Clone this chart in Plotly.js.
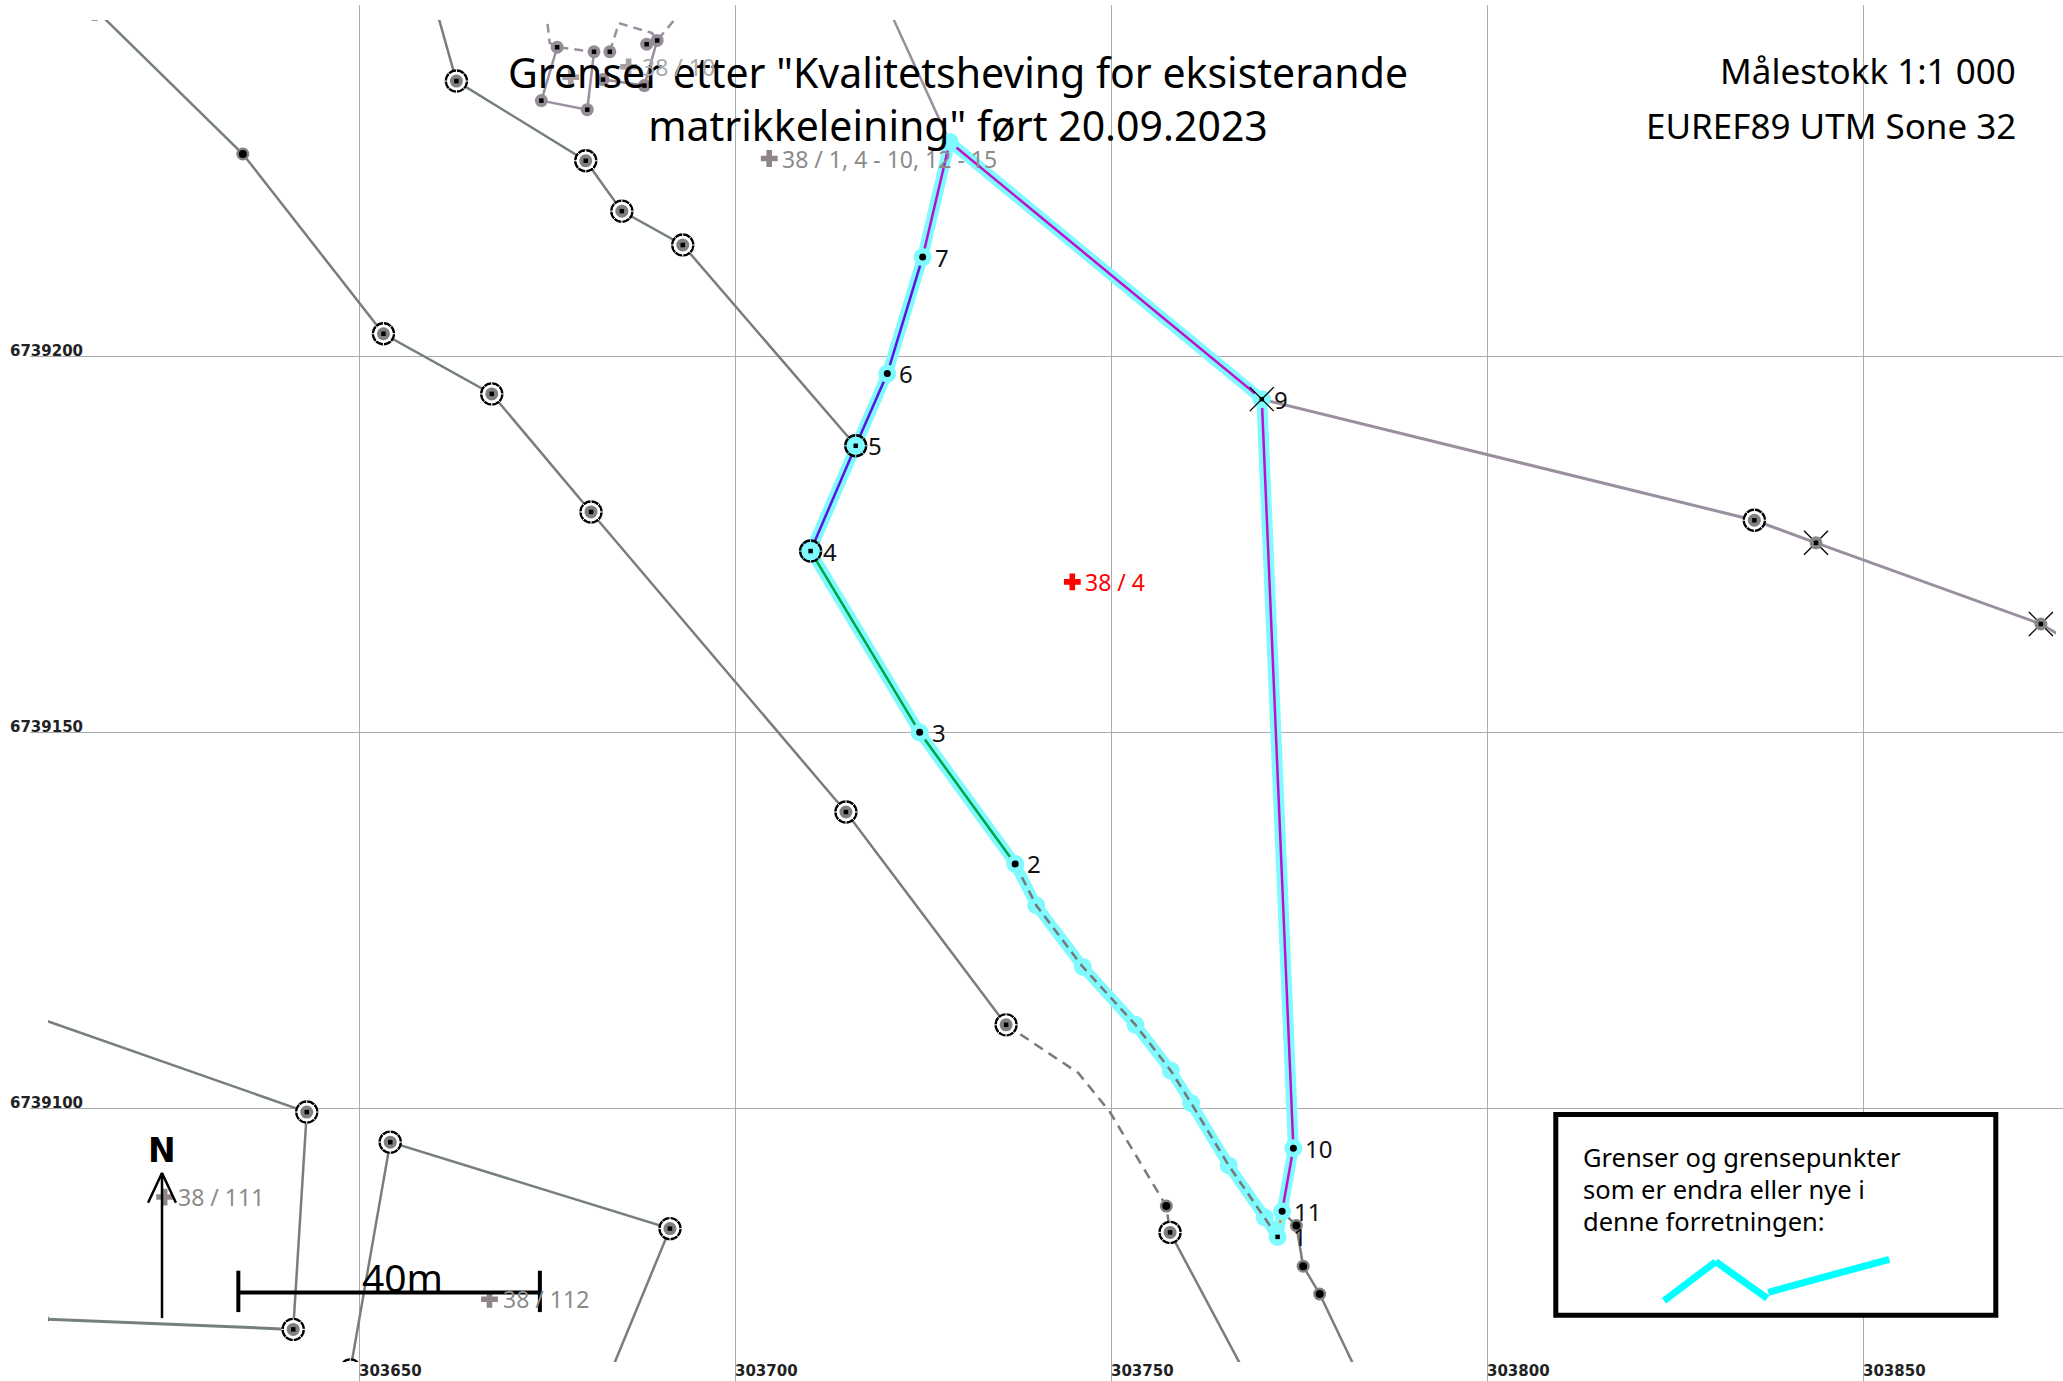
<!DOCTYPE html>
<html><head><meta charset="utf-8">
<script src="https://cdn.plot.ly/plotly-3.0.1.min.js"></script>
<style>html,body{margin:0;padding:0;background:#fff}#c{width:2063px;height:1381px}</style></head>
<body><div id="c"></div>
<script>
const eastTicks=[303650,303700,303750,303800,303850];
const northTicks=[6739100,6739150,6739200];
const lineAE=[303614.8,303634.5,303653.2,303667.6,303680.8,303714.7,303736.0];
const lineAN=[6739246.2,6739226.9,6739203.0,6739195.0,6739179.3,6739139.4,6739111.1];
const lineADashE=[303736.0,303745.6,303749.8,303757.3,303757.8];
const lineADashN=[6739111.1,6739104.7,6739099.5,6739087.0,6739083.5];
const lineA2E=[303757.8,303768.4];
const lineA2N=[6739083.5,6739063.6];
const lineBE=[303660.2,303662.9,303680.1,303684.9,303693.0,303716.0];
const lineBN=[6739246.2,6739236.6,6739226.0,6739219.3,6739214.8,6739188.1];
const lineCE=[303720.4,303728.5];
const lineCN=[6739246.2,6739228.5];
const lineDE=[303770.0,303835.5,303843.7,303873.6,303877.5];
const lineDN=[6739194.3,6739178.2,6739175.2,6739164.4,6739162.1];
const lineHE=[303772.7,303774.6,303775.5,303777.7,303783.1];
const lineHN=[6739086.3,6739084.4,6739079.0,6739075.3,6739064.0];
const lineE1E=[303606.2,303643.0,303641.2,303607.1];
const lineE1N=[6739112.4,6739099.5,6739070.6,6739072.0];
const lineGE=[303648.8,303654.1,303691.3,303683.0];
const lineGN=[6739065.2,6739095.5,6739084.0,6739063.9];
// small parcel
const spSolid1E=[303676.3,303674.2,303680.3,303681.2];
const spSolid1N=[6739241.1,6739234.0,6739232.8,6739240.5];
const spSolid2E=[303689.6,303687.9,303682.4];
const spSolid2N=[6739242.0,6739236.0,6739236.8];
const spDash1E=[303674.8,303675.3,303676.3,303681.2];
const spDash1N=[6739246.2,6739241.7,6739241.1,6739240.5];
const spDash2E=[303683.3,303684.5,303688.9,303689.6,303693.1];
const spDash2N=[6739240.5,6739244.3,6739243.0,6739242.0,6739246.2];
const spNodeE=[303676.3,303681.2,303683.3,303688.2,303689.6,303674.2,303680.3,303682.4,303687.9];
const spNodeN=[6739241.1,6739240.5,6739240.5,6739241.5,6739242.0,6739234.0,6739232.8,6739236.8,6739236.0];
// the parcel boundary, by stretch
const pt8=[303728.5,6739228.5],pt7=[303724.9,6739213.2],pt6=[303720.2,6739197.7],pt5=[303716.0,6739188.1],pt4=[303710.0,6739174.1],pt3=[303724.5,6739150.0],pt2=[303737.2,6739132.5],pt1=[303772.1,6739082.9],pt11=[303772.7,6739086.3],pt10=[303774.2,6739094.7],pt9=[303770.0,6739194.3];
const midE=[303740.0,303746.2,303753.2,303757.9,303760.6,303765.6,303770.4];
const midN=[6739127.0,6739118.8,6739111.1,6739105.0,6739100.7,6739092.4,6739085.5];
const pointNames=["1","2","3","4","5","6","7","9","10","11"];
const pointE=[pt1[0],pt2[0],pt3[0],pt4[0],pt5[0],pt6[0],pt7[0],pt9[0],pt10[0],pt11[0]];
const pointN=[pt1[1],pt2[1],pt3[1],pt4[1],pt5[1],pt6[1],pt7[1],pt9[1],pt10[1],pt11[1]];
// boundary marks
const ringE=[303614.8,303653.2,303667.6,303680.8,303714.7,303736.0,303757.8,303662.9,303680.1,303684.9,303693.0,303835.5,303643.0,303641.2,303654.1,303691.3,303648.8,303607.1];
const ringN=[6739246.2,6739203.0,6739195.0,6739179.3,6739139.4,6739111.1,6739083.5,6739236.6,6739226.0,6739219.3,6739214.8,6739178.2,6739099.5,6739070.6,6739095.5,6739084.0,6739065.2,6739072.0];
const dotE=[303634.5,303757.3,303774.6,303775.5,303777.7];
const dotN=[6739226.9,6739087.0,6739084.4,6739079.0,6739075.3];
const crossE=[303843.7,303873.6];
const crossN=[6739175.2,6739164.4];
// parcel labels
const parcelText=["38 / 1, 4 - 10, 12 - 15","38 / 4","38 / 111","38 / 112","38 / 10",""];
const parcelE=[303704.5,303744.8,303624.1,303667.3,303685.8,303678.1];
const parcelN=[6739226.3,6739170.0,6739088.2,6739074.6,6739238.5,6739237.1];
const parcelColor=["#8b8b8b","#ff0000","#8b8b8b","#8b8b8b","#aaaaaa","#aaaaaa"];
const plusColor=["#8f8589","#ff0000","#8f8589","#8f8589","#a89fa4","#a89fa4"];
// map furniture
const scaleE=[303633.9,303674.0],scaleN=6739075.5,scaleTickN=[6739078.4,6739072.9];
const northE=303623.75,northN=[6739072.1,6739091.4],headE=[303621.9,303623.75,303625.6],headN=[6739087.45,6739091.4,6739087.45];
const titleLines='Grenser etter "Kvalitetsheving for eksisterande<br>matrikkeleining" ført 20.09.2023';
const scaleLines=["Målestokk 1:1 000","EUREF89 UTM Sone 32"];
const legendLines=["Grenser og grensepunkter","som er endra eller nye i","denne forretningen:"];

const W=2063,H=1381,S=7.52;
const E0=303650,EX=359.4,N0=6739100,NY=1108.3;
const eAt=p=>E0+(p-EX)/S, nAt=p=>N0+(NY-p)/S;
const GREEN='#76807a',PURP='#9a8f9e',CY='#7ffaff';
const T=[];
function line(xs,ys,color,width,dash){T.push({x:xs,y:ys,xaxis:'x2',yaxis:'y2',mode:'lines',hoverinfo:'skip',line:{color:color,width:width,dash:dash||'solid'}});}
function mark(xs,ys,sym,size,color,lc,lw){T.push({x:xs,y:ys,xaxis:'x2',yaxis:'y2',mode:'markers',hoverinfo:'skip',marker:{symbol:sym,size:size,color:color,line:{color:lc||color,width:lw||0}}});}
function seg(a,b){return [[a[0],b[0]],[a[1],b[1]]];}
// background cadastre
line(lineAE,lineAN,GREEN,2.5);line(lineADashE,lineADashN,'#7a7a7a',2.5,'10px,7px');line(lineA2E,lineA2N,GREEN,2.5);
line(lineBE,lineBN,GREEN,2.5);line(lineCE,lineCN,PURP,2.5);line(lineDE,lineDN,PURP,3);line(lineHE,lineHN,GREEN,2.5);
line(lineE1E.slice(0,3),lineE1N.slice(0,3),GREEN,2.5);line(lineE1E.slice(2),lineE1N.slice(2),GREEN,3);line(lineGE,lineGN,GREEN,2.5);
line(spSolid1E,spSolid1N,PURP,2.5);line(spSolid2E,spSolid2N,PURP,2.5);
line(spDash1E,spDash1N,PURP,2.5,'9px,6px');line(spDash2E,spDash2N,PURP,2.5,'9px,6px');
// ring marks with broken outline: ring, white breaks, white inside, grey disc, black dot
mark(ringE,ringN,'circle',21,'#ffffff','#000000',2.4);
mark(ringE,ringN,'x-thin',17,'#fff','#fff',1);
mark(ringE,ringN,'cross-thin',17,'#fff','#fff',1);
mark(ringE,ringN,'circle',18.5,'#ffffff');
mark(ringE,ringN,'circle',13,'#808080');
mark(ringE,ringN,'square',4.5,'#000000');
mark(crossE,crossN,'x-thin',24,'#000','#000',1.3);
mark(crossE,crossN,'circle',13,'#868686');
mark(crossE,crossN,'square',4.5,'#000000');
mark(dotE,dotN,'circle',13,'#808080');
mark(dotE,dotN,'circle',8,'#000000');
mark(spNodeE,spNodeN,'circle',13,'#958c98');
mark(spNodeE,spNodeN,'square',4.5,'#000000');
// parcel boundary halo
const haloE=[pt8[0],pt7[0],pt6[0],pt5[0],pt4[0],pt3[0],pt2[0]].concat(midE,[pt1[0],pt11[0],pt10[0],pt9[0],pt8[0]]);
const haloN=[pt8[1],pt7[1],pt6[1],pt5[1],pt4[1],pt3[1],pt2[1]].concat(midN,[pt1[1],pt11[1],pt10[1],pt9[1],pt8[1]]);
line(haloE,haloN,CY,11);
mark(midE,midN,'circle',18,CY);
line(...seg(pt8,pt7),'#b60fd6',2.5);
line([pt7[0],pt6[0],pt5[0],pt4[0]],[pt7[1],pt6[1],pt5[1],pt4[1]],'#5f12e6',2.5);
line([pt4[0],pt3[0],pt2[0]],[pt4[1],pt3[1],pt2[1]],'#00a544',2.5);
line([pt2[0]].concat(midE,[pt1[0]]),[pt2[1]].concat(midN,[pt1[1]]),'#777777',2.5,'9px,6px');
line(...seg(pt1,pt11),'#e8912a',2.5,'8px,6px');
line([pt11[0],pt10[0],pt9[0],pt8[0]],[pt11[1],pt10[1],pt9[1],pt8[1]],'#c00fd2',2.5);
mark([pt8[0],pt7[0],pt6[0],pt3[0],pt2[0],pt1[0],pt11[0],pt10[0],pt9[0]],[pt8[1],pt7[1],pt6[1],pt3[1],pt2[1],pt1[1],pt11[1],pt10[1],pt9[1]],'circle',18,CY);
mark([pt5[0],pt4[0]],[pt5[1],pt4[1]],'circle',21,CY,'#000',2.4);
mark([pt5[0],pt4[0]],[pt5[1],pt4[1]],'x-thin',17,CY,CY,1);
mark([pt5[0],pt4[0]],[pt5[1],pt4[1]],'cross-thin',17,CY,CY,1);
mark([pt7[0],pt6[0],pt3[0],pt2[0],pt11[0],pt10[0]],[pt7[1],pt6[1],pt3[1],pt2[1],pt11[1],pt10[1]],'circle',7,'#000');
mark([pt1[0],pt5[0],pt4[0],pt9[0]],[pt1[1],pt5[1],pt4[1],pt9[1]],'square',4.5,'#000');
mark([pt9[0]],[pt9[1]],'x-thin',24,'#000','#000',1.3);
// plus signs
parcelE.forEach((e,i)=>mark([e],[parcelN[i]],'cross',14,plusColor[i]));
// scale bar and north arrow
line(scaleE,[scaleN,scaleN],'#000',4);
line([scaleE[0],scaleE[0]],scaleTickN,'#000',4);
line([scaleE[1],scaleE[1]],scaleTickN,'#000',4);
line([northE,northE],northN,'#000',2.5);
line(headE,headN,'#000',2.5);

const ann=[];
const lab=(o)=>ann.push(Object.assign({showarrow:false,borderpad:0},o));
const pxText=(text,px,py,size,family,color,anchor,weight)=>lab({text:text,xref:'paper',yref:'paper',x:px/W,y:1-py/H,xanchor:anchor||'left',yanchor:'middle',font:{size:size,family:family,color:color||'#000',weight:weight||400}});
eastTicks.forEach(t=>lab({text:String(t),xref:'x',yref:'paper',x:t,xshift:-1,y:0,xanchor:'left',yanchor:'bottom',font:{size:15,family:'DejaVu Sans',color:'#222',weight:700}}));
northTicks.forEach(t=>lab({text:String(t),xref:'paper',yref:'y',x:9/W,y:t,yshift:5,xanchor:'left',yanchor:'middle',font:{size:15,family:'DejaVu Sans',color:'#222',weight:700}}));
parcelText.forEach((t,i)=>{if(t)lab({text:t,xref:'x2',yref:'y2',x:parcelE[i],y:parcelN[i],xshift:12,xanchor:'left',yanchor:'middle',font:{size:23,family:'Noto Sans',color:parcelColor[i]}});});
pointNames.forEach((t,i)=>lab({text:t,xref:'x2',yref:'y2',x:pointE[i],y:pointN[i],xshift:t==='1'?14:11,xanchor:'left',yanchor:'middle',font:{size:24,family:'Noto Sans',color:'#111'}}));
pxText(scaleLines[0],2017,71,35,'Noto Sans','#000','right');
pxText(scaleLines[1],2017,125,35,'Noto Sans','#000','right');
pxText(legendLines[0],1582,1157,25.5,'Noto Sans');
pxText(legendLines[1],1582,1189,25.5,'Noto Sans');
pxText(legendLines[2],1582,1221,25.5,'Noto Sans');
pxText('40m',402,1276,39,'Noto Sans','#000','center');
pxText('N',162,1150,33,'DejaVu Sans','#000','center',700);

const sw=(a,b,c,d)=>({type:'line',xref:'paper',yref:'paper',x0:a/W,y0:1-b/H,x1:c/W,y1:1-d/H,layer:'above',line:{color:'#00ffff',width:7}});
const shapes=[
 {type:'rect',xref:'paper',yref:'paper',x0:1555.8/W,x1:1995.8/W,y0:1-1315.2/H,y1:1-1114.5/H,layer:'above',fillcolor:'#fff',line:{color:'#000',width:5}},
 sw(1664,1300.7,1715.7,1261.7),sw(1715.7,1261.7,1767.3,1298.3),sw(1768.3,1292.3,1889.3,1259.3)
];
const axisOff={showticklabels:false,ticks:'',zeroline:false,showline:false,showgrid:false,fixedrange:true};
const layout={
 width:W,height:H,margin:{l:0,r:0,t:0,b:0},paper_bgcolor:'#fff',plot_bgcolor:'rgba(0,0,0,0)',showlegend:false,
 title:{text:titleLines,x:958/W,xanchor:'center',xref:'paper',y:1-87.5/H,yref:'paper',yanchor:'top',pad:{t:0,b:0},font:{size:41,family:'Noto Sans',color:'#000'}},
 xaxis:Object.assign({},axisOff,{domain:[30/W,1],range:[eAt(30),eAt(W)],tickmode:'array',tickvals:eastTicks,showgrid:true,gridcolor:'#aaaaaa',gridwidth:1.5,anchor:'y'}),
 yaxis:Object.assign({},axisOff,{domain:[0,1-5/H],range:[nAt(H),nAt(5)],tickmode:'array',tickvals:northTicks,showgrid:true,gridcolor:'#aaaaaa',gridwidth:1.5,anchor:'x'}),
 xaxis2:Object.assign({},axisOff,{domain:[48/W,2056/W],range:[eAt(48),eAt(2056)],anchor:'y2'}),
 yaxis2:Object.assign({},axisOff,{domain:[1-1362/H,1-20/H],range:[nAt(1362),nAt(20)],anchor:'x2'}),
 annotations:ann,shapes:shapes
};
Plotly.newPlot('c',T,layout,{staticPlot:true,displayModeBar:false});
</script></body></html>
